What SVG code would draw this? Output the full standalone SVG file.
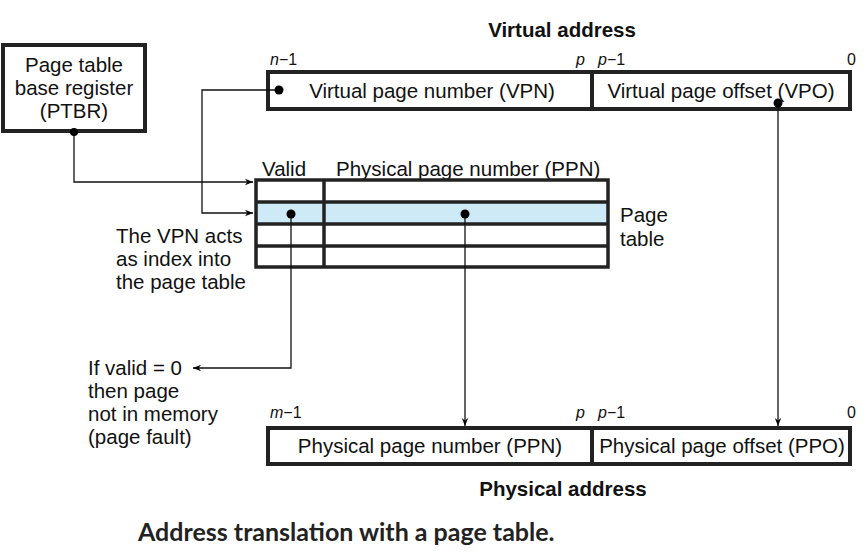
<svg xmlns="http://www.w3.org/2000/svg" width="868" height="554" viewBox="0 0 868 554">
<defs>
<marker id="arr" viewBox="0 0 10 10" refX="10" refY="5" markerWidth="8" markerHeight="8" markerUnits="userSpaceOnUse" orient="auto">
<path d="M0,1 L10,5 L0,9 L3,5 Z" fill="#000"/>
</marker>
</defs>
<style>
.t{font-family:"Liberation Sans",Arial,sans-serif;font-size:20.5px;fill:#111}
.b{font-family:"Liberation Sans",Arial,sans-serif;font-size:20.5px;font-weight:bold;fill:#111}
.i{font-family:"Liberation Sans",Arial,sans-serif;font-size:16px;fill:#111}
.it{font-style:italic}
.box{fill:#fff;stroke:#222;stroke-width:4}
.cell{fill:none;stroke:#222;stroke-width:3.5}
.ln{fill:none;stroke:#111;stroke-width:1.3}
.cap{font-family:Lato,"Open Sans",sans-serif;font-size:25px;font-weight:bold;fill:#222}
</style>
<rect width="868" height="554" fill="#fff"/>

<g id="ptbr">
<rect class="box" x="3" y="45" width="142" height="86"/>
<text class="t" x="74" y="72" text-anchor="middle">Page table</text>
<text class="t" x="74" y="95" text-anchor="middle">base register</text>
<text class="t" x="74" y="118" text-anchor="middle">(PTBR)</text>
</g>

<g id="virtual-address">
<text class="b" x="562" y="37" text-anchor="middle">Virtual address</text>
<text class="i" x="270" y="65"><tspan class="it">n</tspan>−1</text>
<text class="i it" x="576" y="65">p</text>
<text class="i" x="598" y="65"><tspan class="it">p</tspan>−1</text>
<text class="i" x="847" y="65">0</text>
<rect class="box" x="268" y="72" width="324" height="37"/>
<rect class="box" x="592" y="72" width="258" height="37"/>
<text class="t" x="432" y="98" text-anchor="middle">Virtual page number (VPN)</text>
<text class="t" x="721" y="98" text-anchor="middle">Virtual page offset (VPO)</text>
</g>

<g id="page-table">
<text class="t" x="262" y="176">Valid</text>
<text class="t" x="336" y="176">Physical page number (PPN)</text>
<rect x="256" y="202" width="352" height="22" fill="#cfeaf7"/>
<rect class="cell" x="256" y="180" width="352" height="87"/>
<line class="cell" x1="256" y1="202" x2="608" y2="202"/>
<line class="cell" x1="256" y1="224" x2="608" y2="224"/>
<line class="cell" x1="256" y1="246" x2="608" y2="246"/>
<line class="cell" x1="324" y1="180" x2="324" y2="267"/>
<text class="t" x="620" y="222">Page</text>
<text class="t" x="620" y="246">table</text>
</g>

<g id="vpn-note">
<text class="t" x="116" y="243">The VPN acts</text>
<text class="t" x="116" y="266">as index into</text>
<text class="t" x="116" y="289">the page table</text>
</g>

<g id="fault-note">
<text class="t" x="88" y="375">If valid = 0</text>
<text class="t" x="88" y="398">then page</text>
<text class="t" x="88" y="421">not in memory</text>
<text class="t" x="88" y="444">(page fault)</text>
</g>

<g id="physical-address">
<text class="i" x="270" y="418"><tspan class="it">m</tspan>−1</text>
<text class="i it" x="576" y="418">p</text>
<text class="i" x="598" y="418"><tspan class="it">p</tspan>−1</text>
<text class="i" x="847" y="418">0</text>
<rect class="box" x="268" y="428" width="324" height="36"/>
<rect class="box" x="592" y="428" width="258" height="36"/>
<text class="t" x="430" y="453" text-anchor="middle">Physical page number (PPN)</text>
<text class="t" x="722" y="453" text-anchor="middle">Physical page offset (PPO)</text>
<text class="b" x="563" y="496" text-anchor="middle">Physical address</text>
</g>

<g id="connectors">
<polyline class="ln" points="74,132 74,182 253,182" marker-end="url(#arr)"/>
<polyline class="ln" points="279,90 202,90 202,213 253,213" marker-end="url(#arr)"/>
<polyline class="ln" points="291,214 291,368 193,368" marker-end="url(#arr)"/>
<line class="ln" x1="465" y1="214" x2="465" y2="426" marker-end="url(#arr)"/>
<line class="ln" x1="778" y1="103" x2="778" y2="426" marker-end="url(#arr)"/>
<circle cx="74" cy="132" r="4"/>
<circle cx="279" cy="90" r="4.5"/>
<circle cx="291" cy="214" r="4.5"/>
<circle cx="465" cy="214" r="4.5"/>
<circle cx="778" cy="103" r="4.5"/>
</g>

<text class="cap" x="138" y="541">Address translation with a page table.</text>
</svg>
